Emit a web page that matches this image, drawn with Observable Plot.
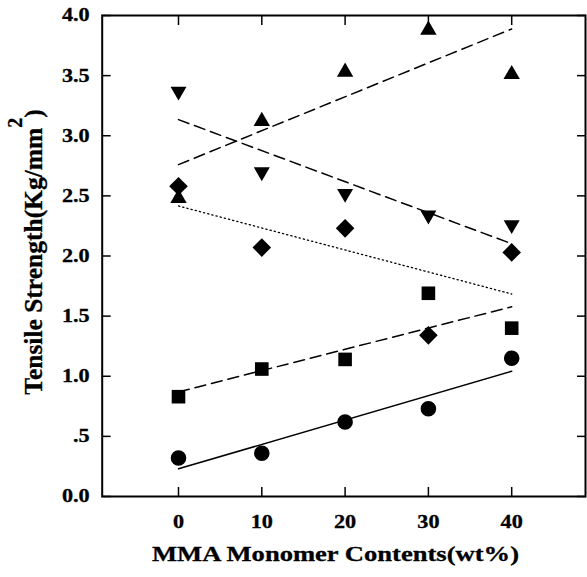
<!DOCTYPE html>
<html>
<head>
<meta charset="utf-8">
<script src="https://cdn.jsdelivr.net/npm/d3@7"></script>
<script src="https://cdn.jsdelivr.net/npm/@observablehq/plot@0.6"></script>
<style>
  html, body { margin: 0; padding: 0; background: #fff; }
</style>
</head>
<body>
<div id="chart"></div>
<script>
// ---- data ----
const mma = [0, 10, 20, 30, 40];
const triUpVals   = [2.50, 3.14, 3.55, 3.90, 3.53];
const triDownVals = [3.35, 2.68, 2.50, 2.32, 2.24];
const diamondVals = [2.58, 2.07, 2.23, 1.34, 2.03];
const squareVals  = [0.83, 1.06, 1.14, 1.69, 1.40];
const circleVals  = [0.32, 0.36, 0.62, 0.73, 1.15];

const xTicks = [0, 10, 20, 30, 40];
const xTickLabels = ["0", "10", "20", "30", "40"];
const yTicks = [0, 0.5, 1, 1.5, 2, 2.5, 3, 3.5, 4];
const yTickLabels = ["0.0", ".5", "1.0", "1.5", "2.0", "2.5", "3.0", "3.5", "4.0"];
const xTitle = "MMA Monomer Contents(wt%)";
const yTitleParts = ["Tensile Strength(Kg/mm", "2", ")"];

// ---- symbols (centered on their bounding box; r = half extent) ----
const half = size => Math.sqrt(size / Math.PI);
const triUpSym = {draw(c, size) {
  const s = 2 * half(size), h = s * Math.sqrt(3) / 2;
  c.moveTo(0, -h / 2); c.lineTo(s / 2, h / 2); c.lineTo(-s / 2, h / 2); c.closePath();
}};
const triDownSym = {draw(c, size) {
  const s = 2 * half(size), h = s * Math.sqrt(3) / 2;
  c.moveTo(0, h / 2); c.lineTo(s / 2, -h / 2); c.lineTo(-s / 2, -h / 2); c.closePath();
}};
const diamondSym = {draw(c, size) {
  const d = half(size);
  c.moveTo(0, -d); c.lineTo(d, 0); c.lineTo(0, d); c.lineTo(-d, 0); c.closePath();
}};
const squareSym = {draw(c, size) {
  const d = half(size);
  c.rect(-d, -d, 2 * d, 2 * d);
}};
const circleSym = {draw(c, size) {
  const d = half(size);
  c.moveTo(d, 0); c.arc(0, 0, d, 0, 2 * Math.PI);
}};

const toRows = vals => mma.map((x, i) => ({x, y: vals[i]}));
const series = [
  {rows: toRows(triUpVals),   symbol: triUpSym,   r: 8.2, dash: "11,6",  width: 1.5},
  {rows: toRows(triDownVals), symbol: triDownSym, r: 8.0, dash: "11,6",  width: 1.5},
  {rows: toRows(diamondVals), symbol: diamondSym, r: 9.3, dash: "1.3,3", width: 1.3},
  {rows: toRows(squareVals),  symbol: squareSym,  r: 6.8, dash: "11,6",  width: 1.5},
  {rows: toRows(circleVals),  symbol: circleSym,  r: 7.8, dash: null,    width: 1.5}
];

const xLabelMap = new Map(xTicks.map((t, i) => [t, xTickLabels[i]]));
const yLabelMap = new Map(yTicks.map((t, i) => [t, yTickLabels[i]]));

const plot = Plot.plot({
  width: 587,
  height: 577,
  marginLeft: 101.7,
  marginRight: 2,
  marginTop: 15,
  marginBottom: 81,
  style: {
    fontFamily: "'Liberation Serif', 'Times New Roman', serif",
    fontSize: "18.5px",
    fontWeight: "bold",
    color: "black",
    background: "white",
    overflow: "visible"
  },
  x: {domain: [-9.16, 48.86]},
  y: {domain: [0, 4]},
  marks: [
    // inward tick marks on all four sides
    Plot.axisX({anchor: "bottom", ticks: xTicks, tickSize: -9, tickFormat: () => "", label: null, strokeWidth: 1.5}),
    Plot.axisX({anchor: "top", ticks: xTicks, tickSize: -9, tickFormat: () => "", label: null, strokeWidth: 1.5}),
    Plot.axisY({anchor: "left", ticks: yTicks, tickSize: -9, tickFormat: () => "", label: null, strokeWidth: 1.5}),
    Plot.axisY({anchor: "right", ticks: yTicks, tickSize: -9, tickFormat: () => "", label: null, strokeWidth: 1.5}),
    // tick labels
    Plot.axisX({anchor: "bottom", ticks: xTicks, tickSize: 0, tickPadding: 18, tickFormat: d => xLabelMap.get(d), label: null}),
    Plot.axisY({anchor: "left", ticks: yTicks, tickSize: 0, tickPadding: 12.5, tickFormat: d => yLabelMap.get(d), label: null}),
    // fitted lines
    ...series.map(s => Plot.linearRegressionY(s.rows, {
      x: "x", y: "y", ci: 0, stroke: "black", strokeWidth: s.width,
      strokeDasharray: s.dash
    })),
    // markers
    ...series.map(s => Plot.dot(s.rows, {
      x: "x", y: "y", symbol: s.symbol, r: s.r, fill: "black", stroke: "none"
    })),
    Plot.frame({stroke: "black", strokeWidth: 2})
  ]
});

document.getElementById("chart").appendChild(plot);

// widen the horizontal tick labels like the reference lettering
const svg = d3.select(plot);
svg.selectAll('g[aria-label$="tick label"] text').each(function() {
  const tr = this.getAttribute("transform");
  if (tr) this.setAttribute("transform", tr + " scale(1.2,1)");
  this.setAttribute("stroke", "black");
  this.setAttribute("stroke-width", "0.3");
});

// axis titles
svg.append("text")
  .attr("x", 335.5)
  .attr("y", 561)
  .attr("text-anchor", "middle")
  .attr("textLength", 367)
  .attr("lengthAdjust", "spacingAndGlyphs")
  .style("font-family", "'Liberation Serif', 'Times New Roman', serif")
  .style("font-weight", "bold")
  .style("font-size", "21.5px")
  .attr("fill", "black")
  .attr("stroke", "black")
  .attr("stroke-width", 0.3)
  .text(xTitle);

const yt = svg.append("text")
  .attr("transform", "translate(42,252) rotate(-90)")
  .attr("text-anchor", "middle")
  .style("font-family", "'Liberation Serif', 'Times New Roman', serif")
  .style("font-weight", "bold")
  .style("font-size", "25.5px")
  .attr("fill", "black")
  .attr("stroke", "black")
  .attr("stroke-width", 0.3);
yt.append("tspan").text(yTitleParts[0]);
yt.append("tspan").attr("dy", -20).style("font-size", "20px").text(yTitleParts[1]);
yt.append("tspan").attr("dy", 20).text(yTitleParts[2]);
</script>
</body>
</html>
